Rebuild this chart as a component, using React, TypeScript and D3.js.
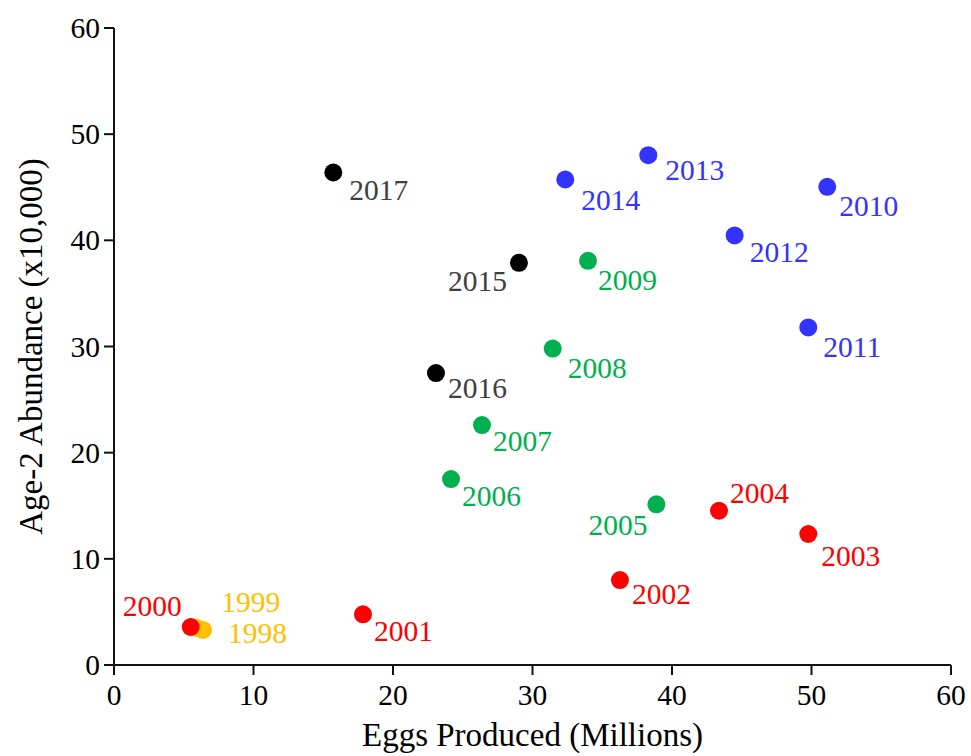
import React from "react";
import * as d3 from "d3";

const years = [1998, 1999, 2000, 2001, 2002, 2003, 2004, 2005, 2006, 2007, 2008, 2009, 2010, 2011, 2012, 2013, 2014, 2015, 2016, 2017];
const eggs = [6.38, 5.9, 5.5, 17.85, 36.27, 49.77, 43.37, 38.88, 24.16, 26.38, 31.45, 33.98, 51.13, 49.77, 44.49, 38.3, 32.35, 29.03, 23.08, 15.72];
const abundance = [3.3, 3.5, 3.58, 4.77, 8.0, 12.34, 14.53, 15.13, 17.51, 22.6, 29.8, 38.07, 45.04, 31.8, 40.46, 48.02, 45.73, 37.88, 27.5, 46.39];
const periods = ["A", "A", "B", "B", "B", "B", "B", "C", "C", "C", "C", "C", "D", "D", "D", "D", "D", "E", "E", "E"];
const xTicks = [0, 10, 20, 30, 40, 50, 60];
const yTicks = [0, 10, 20, 30, 40, 50, 60];

const periodNames = ["A", "B", "C", "D", "E"];
const dotColors = ["#ffc000", "#ff0000", "#00b050", "#3333ff", "#000000"];
const textColors = ["#ffc000", "#ff0000", "#00b050", "#3333ff", "#404040"];

// label placement relative to each dot: [dx, dy, anchor]
const labelPlacement: Record<number, [number, number, string]> = {
  1998: [25, 13, "start"],
  1999: [25, -16, "start"],
  2000: [-9, -11, "end"],
  2001: [11, 27, "start"],
  2002: [12, 24, "start"],
  2003: [13, 32, "start"],
  2004: [11, -8, "start"],
  2005: [-9, 31, "end"],
  2006: [11, 27, "start"],
  2007: [11, 26, "start"],
  2008: [15, 29, "start"],
  2009: [10, 29, "start"],
  2010: [12, 29, "start"],
  2011: [15, 30, "start"],
  2012: [15, 27, "start"],
  2013: [17, 25, "start"],
  2014: [16, 31, "start"],
  2015: [-12, 28, "end"],
  2016: [12, 25, "start"],
  2017: [16, 28, "start"],
};

const W = 971;
const H = 756;
const FONT = "'Liberation Serif', 'Times New Roman', serif";

export default function App() {
  const x = d3.scaleLinear().domain([0, 60]).range([114, 951]);
  const y = d3.scaleLinear().domain([0, 60]).range([665, 28]);
  const dotColor = d3.scaleOrdinal<string, string>().domain(periodNames).range(dotColors);
  const textColor = d3.scaleOrdinal<string, string>().domain(periodNames).range(textColors);

  const axisColor = "#111";
  const sw = 2;
  const tickLen = 10;

  return (
    <svg
      width={W}
      height={H}
      style={{ position: "absolute", left: 0, top: 0, background: "#fff" }}
      fontFamily={FONT}
    >
      {/* axes */}
      <line x1={x(0)} x2={x(60)} y1={y(0)} y2={y(0)} stroke={axisColor} strokeWidth={sw} />
      <line x1={x(0)} x2={x(0)} y1={y(0)} y2={y(60)} stroke={axisColor} strokeWidth={sw} />
      {xTicks.map((t) => (
        <g key={"xt" + t}>
          <line x1={x(t)} x2={x(t)} y1={y(0)} y2={y(0) + tickLen} stroke={axisColor} strokeWidth={sw} />
          <text x={x(t)} y={705} textAnchor="middle" fontSize={29.5} fill="#000">
            {t}
          </text>
        </g>
      ))}
      {yTicks.map((t) => (
        <g key={"yt" + t}>
          <line x1={x(0) - tickLen} x2={x(0)} y1={y(t)} y2={y(t)} stroke={axisColor} strokeWidth={sw} />
          <text x={100} y={y(t) + 10} textAnchor="end" fontSize={29.5} fill="#000">
            {t}
          </text>
        </g>
      ))}
      <text x={(x(0) + x(60)) / 2} y={746} textAnchor="middle" fontSize={33} fill="#000">
        Eggs Produced (Millions)
      </text>
      <text
        transform={`translate(42, ${(y(0) + y(60)) / 2}) rotate(-90)`}
        textAnchor="middle"
        fontSize={33}
        fill="#000"
      >
        Age-2 Abundance (x10,000)
      </text>

      {/* dots */}
      {years.map((yr, i) => (
        <circle key={"c" + yr} cx={x(eggs[i])} cy={y(abundance[i])} r={9} fill={dotColor(periods[i])} />
      ))}
      {/* labels */}
      {years.map((yr, i) => {
        const [dx, dy, anchor] = labelPlacement[yr];
        return (
          <text
            key={"l" + yr}
            x={x(eggs[i]) + dx}
            y={y(abundance[i]) + dy}
            textAnchor={anchor as any}
            fontSize={29.5}
            fill={textColor(periods[i])}
          >
            {yr}
          </text>
        );
      })}
    </svg>
  );
}
